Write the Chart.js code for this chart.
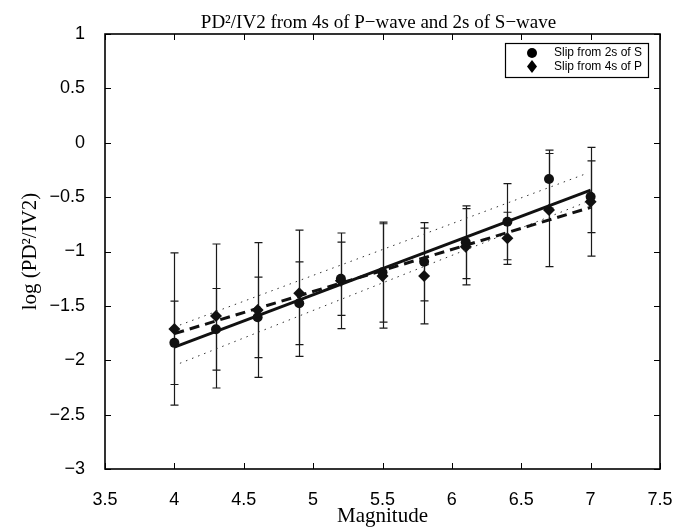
<!DOCTYPE html>
<html lang="en">
<head>
  <meta charset="UTF-8">
  <title>PD2/IV2 vs Magnitude</title>
  <script src="https://cdn.jsdelivr.net/npm/chart.js"></script>
  <style>
    html, body { margin: 0; padding: 0; background: #ffffff; }
  </style>
</head>
<body>
<canvas id="slipChart" width="691" height="532"></canvas>
<script>
    // magnitudes and log(PD^2/IV2) values
    const magnitudes = [4.0, 4.3, 4.6, 4.9, 5.2, 5.5, 5.8, 6.1, 6.4, 6.7, 7.0];

    const slipS    = [-1.84, -1.715, -1.605, -1.476, -1.25, -1.19, -1.094, -0.915, -0.726, -0.334, -0.496];
    const slipSErr = [0.383, 0.375, 0.37, 0.38, 0.337, 0.46, 0.36, 0.335, 0.35, 0.267, 0.33];

    const slipP    = [-1.712, -1.593, -1.538, -1.384, -1.27, -1.225, -1.225, -0.956, -0.879, -0.619, -0.542];
    const slipPErr = [0.70, 0.662, 0.62, 0.58, 0.44, 0.48, 0.44, 0.35, 0.24, 0.52, 0.50];

    // regression lines (end points)
    const fitSX = [4.0, 7.0];
    const fitSY = [-1.88, -0.435];
    const fitPX = [4.0, 7.0];
    const fitPY = [-1.755, -0.594];
    const bandUpX = [4.04, 6.96];
    const bandUpY = [-1.676, -0.288];
    const bandLoX = [4.04, 6.96];
    const bandLoY = [-2.028, -0.55];

    const xTicks = [3.5, 4, 4.5, 5, 5.5, 6, 6.5, 7, 7.5];
    const yTicks = [-3, -2.5, -2, -1.5, -1, -0.5, 0, 0.5, 1];

    const titleText = 'PD\u00B2/IV2 from 4s of P\u2212wave and 2s of S\u2212wave';
    const legendLabels = ['Slip from 2s of S', 'Slip from 4s of P'];

    const toPoints = (xs, ys) => xs.map((x, i) => ({ x: x, y: ys[i] }));
    const fmt = v => String(v).replace('-', '\u2212');

    // error bars, frame with inward ticks, title and legend box
    const figurePlugin = {
        id: 'figurePlugin',
        beforeDatasetsDraw(chart) {
            const ctx = chart.ctx;
            const xs = chart.scales.x, ys = chart.scales.y;
            const bars = [[slipS, slipSErr], [slipP, slipPErr]];
            ctx.save();
            ctx.strokeStyle = '#1a1a1a';
            ctx.lineWidth = 1.2;
            bars.forEach(([vals, errs]) => {
                vals.forEach((v, i) => {
                    const px = Math.round(xs.getPixelForValue(magnitudes[i])) + 0.5;
                    const top = ys.getPixelForValue(v + errs[i]);
                    const bot = ys.getPixelForValue(v - errs[i]);
                    ctx.beginPath();
                    ctx.moveTo(px, top); ctx.lineTo(px, bot);
                    ctx.moveTo(px - 4, top); ctx.lineTo(px + 4, top);
                    ctx.moveTo(px - 4, bot); ctx.lineTo(px + 4, bot);
                    ctx.stroke();
                });
            });
            ctx.restore();
        },
        afterDraw(chart) {
            const ctx = chart.ctx;
            const a = chart.chartArea;
            const xs = chart.scales.x, ys = chart.scales.y;
            ctx.save();
            ctx.strokeStyle = '#000';
            ctx.lineWidth = 1.6;
            ctx.strokeRect(a.left, a.top, a.right - a.left, a.bottom - a.top);
            ctx.lineWidth = 1;
            ctx.beginPath();
            xTicks.forEach(t => {
                const px = Math.round(xs.getPixelForValue(t)) + 0.5;
                ctx.moveTo(px, a.bottom); ctx.lineTo(px, a.bottom - 6);
                ctx.moveTo(px, a.top); ctx.lineTo(px, a.top + 6);
            });
            yTicks.forEach(t => {
                const py = Math.round(ys.getPixelForValue(t)) + 0.5;
                ctx.moveTo(a.left, py); ctx.lineTo(a.left + 6, py);
                ctx.moveTo(a.right, py); ctx.lineTo(a.right - 6, py);
            });
            ctx.stroke();

            // title
            ctx.fillStyle = '#000';
            ctx.font = '19px "Liberation Serif"';
            ctx.textAlign = 'center';
            ctx.textBaseline = 'alphabetic';
            ctx.fillText(titleText, (a.left + a.right) / 2 - 4, 28);

            // legend box
            const bw = 143, bh = 34;
            const bx = a.right - 12 - bw, by = a.top + 9;
            ctx.fillStyle = '#fff';
            ctx.fillRect(bx, by, bw, bh);
            ctx.lineWidth = 1.2;
            ctx.strokeRect(bx + 0.5, by + 0.5, bw, bh);
            ctx.fillStyle = '#000';
            ctx.beginPath();
            ctx.arc(bx + 27, by + 10, 5, 0, Math.PI * 2);
            ctx.fill();
            ctx.beginPath();
            ctx.moveTo(bx + 27, by + 17);
            ctx.lineTo(bx + 32, by + 23.5);
            ctx.lineTo(bx + 27, by + 30);
            ctx.lineTo(bx + 22, by + 23.5);
            ctx.closePath();
            ctx.fill();
            ctx.font = '12px "Liberation Sans"';
            ctx.textAlign = 'left';
            ctx.textBaseline = 'middle';
            ctx.fillText(legendLabels[0], bx + 49, by + 10);
            ctx.fillText(legendLabels[1], bx + 49, by + 24);
            ctx.restore();
        }
    };

    const ctx = document.getElementById('slipChart').getContext('2d');
    new Chart(ctx, {
        type: 'scatter',
        data: {
            datasets: [
                {
                    label: 'fit S',
                    data: toPoints(fitSX, fitSY),
                    showLine: true,
                    borderColor: '#111',
                    borderWidth: 3,
                    pointRadius: 0
                },
                {
                    label: 'fit P',
                    data: toPoints(fitPX, fitPY),
                    showLine: true,
                    borderColor: '#111',
                    borderWidth: 3,
                    borderDash: [10, 6],
                    pointRadius: 0
                },
                {
                    label: 'band upper',
                    data: toPoints(bandUpX, bandUpY),
                    showLine: true,
                    borderColor: '#333',
                    borderWidth: 1,
                    borderDash: [1.5, 5],
                    pointRadius: 0
                },
                {
                    label: 'band lower',
                    data: toPoints(bandLoX, bandLoY),
                    showLine: true,
                    borderColor: '#333',
                    borderWidth: 1,
                    borderDash: [1.5, 5],
                    pointRadius: 0
                },
                {
                    label: legendLabels[0],
                    data: toPoints(magnitudes, slipS),
                    pointStyle: 'circle',
                    pointRadius: 5,
                    backgroundColor: '#111',
                    borderColor: '#111',
                    borderWidth: 0
                },
                {
                    label: legendLabels[1],
                    data: toPoints(magnitudes, slipP),
                    pointStyle: 'rectRot',
                    pointRadius: 6,
                    backgroundColor: '#111',
                    borderColor: '#111',
                    borderWidth: 0
                }
            ]
        },
        options: {
            responsive: false,
            animation: false,
            layout: { padding: { top: 34, right: 31, left: 0, bottom: 0 } },
            plugins: {
                legend: { display: false },
                title: { display: false },
                tooltip: { enabled: false }
            },
            scales: {
                x: {
                    type: 'linear',
                    min: 3.5,
                    max: 7.5,
                    afterBuildTicks: s => { s.ticks = xTicks.map(v => ({ value: v })); },
                    afterFit: s => { s.height = 63; },
                    ticks: {
                        callback: v => fmt(v),
                        color: '#000',
                        font: { family: 'Liberation Sans', size: 18 },
                        padding: 12,
                        maxRotation: 0,
                        autoSkip: false
                    },
                    grid: { display: false },
                    border: { display: false },
                    title: {
                        display: true,
                        text: 'Magnitude',
                        color: '#000',
                        font: { family: 'Liberation Serif', size: 21 },
                        padding: { top: 0, bottom: 3 }
                    }
                },
                y: {
                    type: 'linear',
                    min: -3,
                    max: 1,
                    afterBuildTicks: s => { s.ticks = yTicks.map(v => ({ value: v })); },
                    afterFit: s => { s.width = 105; },
                    ticks: {
                        callback: v => fmt(v),
                        color: '#000',
                        font: { family: 'Liberation Sans', size: 18 },
                        padding: 12
                    },
                    grid: { display: false },
                    border: { display: false },
                    title: {
                        display: true,
                        text: 'log (PD\u00B2/IV2)',
                        color: '#000',
                        font: { family: 'Liberation Serif', size: 21 },
                        padding: { top: 18, bottom: 0 }
                    }
                }
            }
        },
        plugins: [figurePlugin]
    });
</script>
</body>
</html>
